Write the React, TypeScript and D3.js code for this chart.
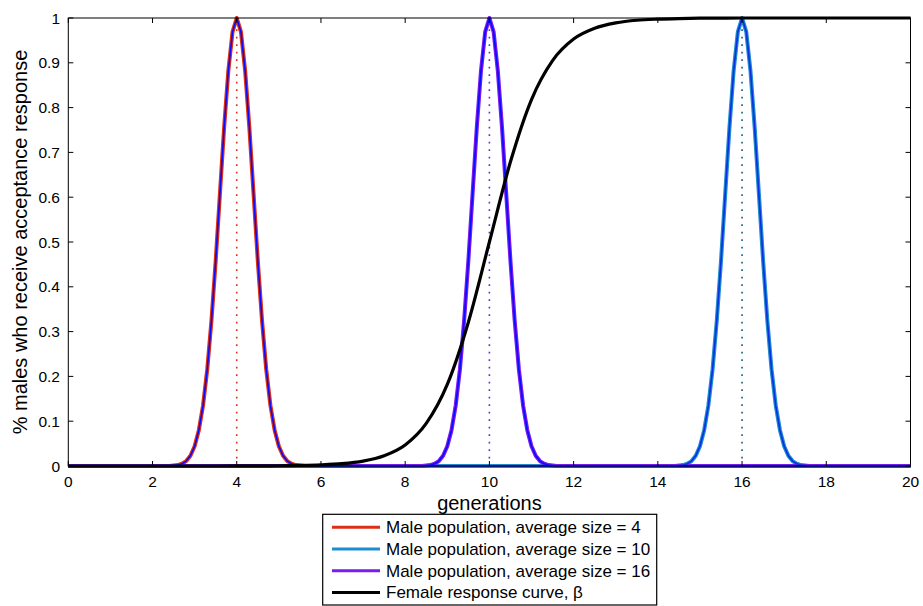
import React from "react";
import * as d3 from "d3";

const W = 923;
const H = 606;

const xTicks = [0, 2, 4, 6, 8, 10, 12, 14, 16, 18, 20];
const yTicks = [0, 0.1, 0.2, 0.3, 0.4, 0.5, 0.6, 0.7, 0.8, 0.9, 1];
const yTickLabels = ["0", "0.1", "0.2", "0.3", "0.4", "0.5", "0.6", "0.7", "0.8", "0.9", "1"];

// Male population curves (peaks)
const male4X = [0, 2.4, 2.5, 2.6, 2.7, 2.8, 2.9, 3.0, 3.1, 3.2, 3.3, 3.4, 3.5, 3.6, 3.7, 3.8, 3.9, 4.0, 4.1, 4.2, 4.3, 4.4, 4.5, 4.6, 4.7, 4.8, 4.9, 5.0, 5.1, 5.2, 5.3, 5.4, 5.5, 5.6, 20];
const male4Y = [0, 0, 0.001, 0.002, 0.005, 0.011, 0.023, 0.044, 0.08, 0.135, 0.216, 0.325, 0.458, 0.607, 0.755, 0.882, 0.969, 1, 0.969, 0.882, 0.755, 0.607, 0.458, 0.325, 0.216, 0.135, 0.08, 0.044, 0.023, 0.011, 0.005, 0.002, 0.001, 0, 0];

const male10X = [0, 8.4, 8.5, 8.6, 8.7, 8.8, 8.9, 9.0, 9.1, 9.2, 9.3, 9.4, 9.5, 9.6, 9.7, 9.8, 9.9, 10.0, 10.1, 10.2, 10.3, 10.4, 10.5, 10.6, 10.7, 10.8, 10.9, 11.0, 11.1, 11.2, 11.3, 11.4, 11.5, 11.6, 20];
const male10Y = [0, 0, 0.001, 0.002, 0.005, 0.011, 0.023, 0.044, 0.08, 0.135, 0.216, 0.325, 0.458, 0.607, 0.755, 0.882, 0.969, 1, 0.969, 0.882, 0.755, 0.607, 0.458, 0.325, 0.216, 0.135, 0.08, 0.044, 0.023, 0.011, 0.005, 0.002, 0.001, 0, 0];

const male16X = [0, 14.4, 14.5, 14.6, 14.7, 14.8, 14.9, 15.0, 15.1, 15.2, 15.3, 15.4, 15.5, 15.6, 15.7, 15.8, 15.9, 16.0, 16.1, 16.2, 16.3, 16.4, 16.5, 16.6, 16.7, 16.8, 16.9, 17.0, 17.1, 17.2, 17.3, 17.4, 17.5, 17.6, 20];
const male16Y = [0, 0, 0.001, 0.002, 0.005, 0.011, 0.023, 0.044, 0.08, 0.135, 0.216, 0.325, 0.458, 0.607, 0.755, 0.882, 0.969, 1, 0.969, 0.882, 0.755, 0.607, 0.458, 0.325, 0.216, 0.135, 0.08, 0.044, 0.023, 0.011, 0.005, 0.002, 0.001, 0, 0];

// Female response curve
const femaleX = [0, 1, 2, 3, 4, 4.5, 5, 5.5, 6, 6.5, 7, 7.5, 8, 8.5, 9, 9.5, 10, 10.5, 11, 11.5, 12, 12.5, 13, 13.5, 14, 14.5, 15, 16, 17, 18, 19, 20];
const femaleY = [0, 0, 0, 0, 0.0001, 0.0003, 0.0006, 0.0012, 0.0025, 0.0052, 0.011, 0.023, 0.047, 0.095, 0.182, 0.321, 0.5, 0.679, 0.818, 0.905, 0.953, 0.977, 0.989, 0.995, 0.9975, 0.9988, 0.9995, 1, 1, 1, 1, 1];

const peakCenters = [4, 10, 16];

const legendLabels = [
  "Male population, average size = 4",
  "Male population, average size = 10",
  "Male population, average size = 16",
  "Female response curve, \u03b2",
];

const RED = "#db3016";
const LBLUE = "#1f8bd1";
const PURPLE = "#7a1bef";
const INNER = "#0a0aff";
const legendColors = [RED, LBLUE, PURPLE, "#000000"];

const FONT = "'Liberation Sans', Arial, Helvetica, sans-serif";

export default function App() {
  const left = 68.3;
  const right = 910.5;
  const top = 18;
  const bottom = 466;

  const x = d3.scaleLinear().domain([0, 20]).range([left, right]);
  const y = d3.scaleLinear().domain([0, 1]).range([bottom, top]);

  const lin = d3
    .line<[number, number]>()
    .x((d) => x(d[0]))
    .y((d) => y(d[1]));
  const smooth = d3
    .line<[number, number]>()
    .x((d) => x(d[0]))
    .y((d) => y(d[1]))
    .curve(d3.curveMonotoneX);

  const zip = (a: number[], b: number[]) => a.map((v, i) => [v, b[i]] as [number, number]);

  const male4 = lin(zip(male4X, male4Y)) || "";
  const male10 = lin(zip(male10X, male10Y)) || "";
  const male16 = lin(zip(male16X, male16Y)) || "";
  const female = smooth(zip(femaleX, femaleY)) || "";

  const dotColors = [RED, "#6a2ad8", "#0b5f8e"];

  const tickLen = 5;

  const legX = 322.7;
  const legY = 514.3;
  const legW = 334;
  const legH = 90.7;
  const rowY0 = 527.3;
  const rowStep = 21.7;

  return (
    <svg
      width={W}
      height={H}
      style={{ position: "absolute", left: 0, top: 0, background: "#fff" }}
      fontFamily={FONT}
    >
      <rect x={0} y={0} width={W} height={H} fill="#fff" />

      {/* dotted vertical markers */}
      {peakCenters.map((c, i) => (
        <line
          key={"dot" + i}
          x1={x(c)}
          x2={x(c)}
          y1={y(0)}
          y2={y(1)}
          stroke={dotColors[i]}
          strokeWidth={1.6}
          strokeDasharray="1.8 5.7"
        />
      ))}

      {/* colored outer curves */}
      <path d={male4} fill="none" stroke={RED} strokeWidth={4} strokeLinejoin="round" />
      <path d={male16} fill="none" stroke={LBLUE} strokeWidth={4} strokeLinejoin="round" />
      <path d={male10} fill="none" stroke={PURPLE} strokeWidth={4} strokeLinejoin="round" />

      {/* inner blue lines */}
      <path d={male4} fill="none" stroke={INNER} strokeWidth={1.6} strokeLinejoin="round" />
      <path d={male10} fill="none" stroke={INNER} strokeWidth={1.6} strokeLinejoin="round" />
      <path d={male16} fill="none" stroke="#0630e0" strokeWidth={1.6} strokeLinejoin="round" />

      {/* female response */}
      <path d={female} fill="none" stroke="#000" strokeWidth={3.2} strokeLinejoin="round" />

      {/* axes box */}
      <rect x={left} y={top} width={right - left} height={bottom - top} fill="none" stroke="#000" strokeWidth={1} />

      {xTicks.map((t) => (
        <g key={"xt" + t}>
          <line x1={x(t)} x2={x(t)} y1={bottom} y2={bottom - tickLen} stroke="#000" strokeWidth={1} />
          <line x1={x(t)} x2={x(t)} y1={top} y2={top + tickLen} stroke="#000" strokeWidth={1} />
          <text x={x(t)} y={487} fontSize={15.5} textAnchor="middle" fill="#000">
            {t}
          </text>
        </g>
      ))}
      {yTicks.map((t, i) => (
        <g key={"yt" + i}>
          <line x1={left} x2={left + tickLen} y1={y(t)} y2={y(t)} stroke="#000" strokeWidth={1} />
          <line x1={right} x2={right - tickLen} y1={y(t)} y2={y(t)} stroke="#000" strokeWidth={1} />
          <text x={60} y={y(t) + 5.5} fontSize={15.5} textAnchor="end" fill="#000">
            {yTickLabels[i]}
          </text>
        </g>
      ))}

      {/* axis labels */}
      <text x={(left + right) / 2} y={510} fontSize={20} textAnchor="middle" fill="#000">
        generations
      </text>
      <text
        transform={`translate(27, ${(top + bottom) / 2}) rotate(-90)`}
        fontSize={20}
        textAnchor="middle"
        fill="#000"
      >
        % males who receive acceptance response
      </text>

      {/* legend */}
      <rect x={legX} y={legY} width={legW} height={legH} fill="#fff" stroke="#000" strokeWidth={1.2} />
      {legendLabels.map((lab, i) => (
        <g key={"lg" + i}>
          <line
            x1={332}
            x2={380}
            y1={rowY0 + i * rowStep}
            y2={rowY0 + i * rowStep}
            stroke={legendColors[i]}
            strokeWidth={3}
          />
          <text x={386} y={rowY0 + i * rowStep + 5.8} fontSize={17} fill="#000">
            {lab}
          </text>
        </g>
      ))}
    </svg>
  );
}
